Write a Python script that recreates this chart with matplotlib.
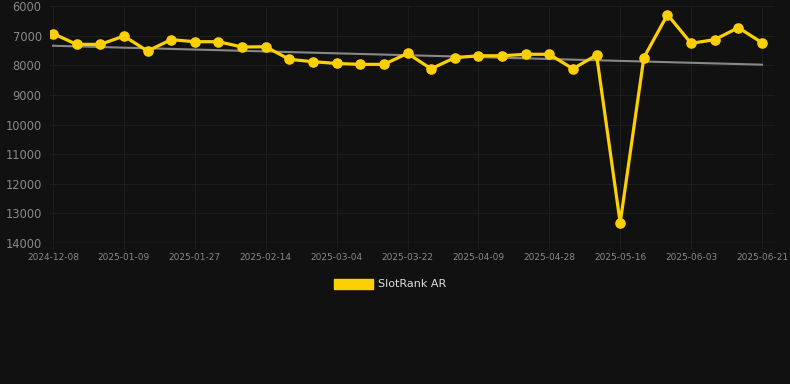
import numpy as np
import matplotlib.pyplot as plt
from matplotlib.patches import Patch

# ── Datos ─────────────────────────────────────────────────────────────────────
rank = [6930, 7295, 7295, 7015, 7520, 7135, 7205, 7205, 7385, 7375,
        7800, 7880, 7940, 7970, 7970, 7600, 8120, 7745, 7680, 7680,
        7630, 7630, 8120, 7655, 13320, 7745, 6290, 7260, 7135, 6730,
        7240]
tick_labels = ["2024-12-08", "2025-01-09", "2025-01-27", "2025-02-14",
               "2025-03-04", "2025-03-22", "2025-04-09", "2025-04-28",
               "2025-05-16", "2025-06-03", "2025-06-21"]
y_ticks = [6000, 7000, 8000, 9000, 10000, 11000, 12000, 13000, 14000]
series_name = "SlotRank AR"

# ── Estilo ────────────────────────────────────────────────────────────────────
BG = "#111111"
YELLOW = "#FFD000"
GRID = "#1d1d1d"
TICK = "#888888"

W, H = 790, 384
fig = plt.figure(figsize=(W / 100, H / 100), dpi=100)
fig.patch.set_facecolor(BG)

# área del gráfico en píxeles
left, right, top, bottom = 50, 775, 6, 243
ax = fig.add_axes([left / W, 1 - bottom / H, (right - left) / W, (bottom - top) / H])
ax.set_facecolor(BG)

x = np.arange(len(rank))
step = (762 - 53) / (len(rank) - 1)
ax.set_xlim(-(53 - left) / step, len(rank) - 1 + (right - 762) / step)
ax.set_ylim(14000, 6000)

# línea de tendencia (regresión lineal)
coef = np.polyfit(x, rank, 1)
ax.plot(x[[0, -1]], np.polyval(coef, x[[0, -1]]), color="#888888", lw=1.5, zorder=2)

ax.plot(x, rank, color=YELLOW, lw=2.3, marker="o", ms=6.6,
        markerfacecolor=YELLOW, markeredgecolor=YELLOW, zorder=3)

ax.set_xticks(x[::3])
ax.set_xticklabels(tick_labels)
ax.set_yticks(y_ticks)
ax.set_yticklabels([str(v) for v in y_ticks])
ax.tick_params(axis="y", colors=TICK, labelsize=8.3, length=0, pad=6)
ax.tick_params(axis="x", colors=TICK, labelsize=6.5, length=4, pad=3, color=GRID)
ax.grid(True, color=GRID, lw=0.8)
ax.set_axisbelow(True)
for sp in ax.spines.values():
    sp.set_visible(False)
ax.axhline(14000, color="#262626", lw=1, zorder=1)

fig.legend(handles=[Patch(facecolor=YELLOW, edgecolor=YELLOW, label=series_name)],
           loc="center", bbox_to_anchor=(390 / W, 1 - 284 / H), frameon=False,
           handlelength=3.5, handleheight=1.0, handletextpad=0.5,
           fontsize=8, labelcolor="#dddddd")

plt.savefig("out.png", dpi=100, facecolor=BG)
